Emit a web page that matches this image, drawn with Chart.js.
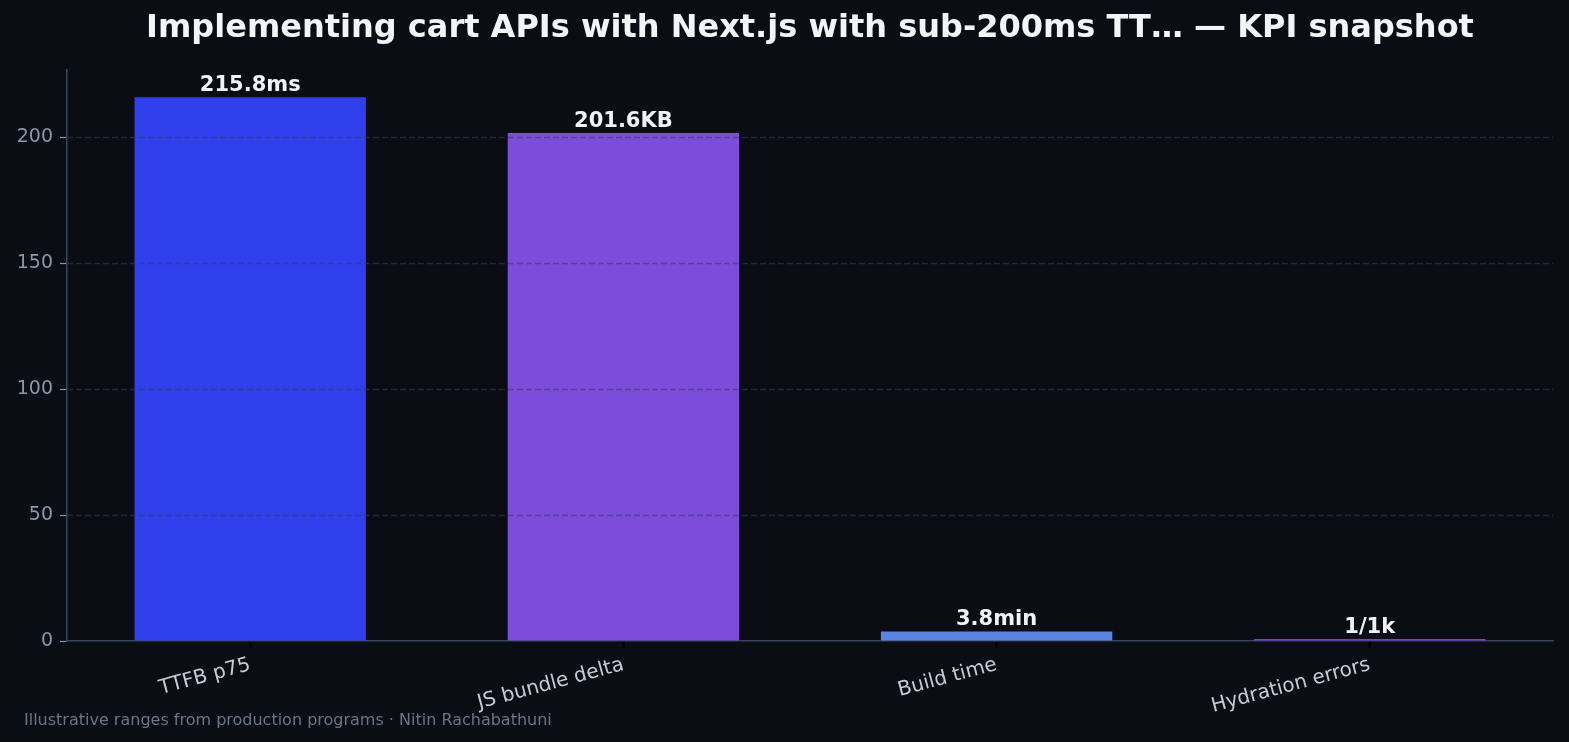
<!DOCTYPE html>
<html><head><meta charset="utf-8">
<script src="https://cdn.jsdelivr.net/npm/chart.js@4.4.1/dist/chart.umd.min.js"></script>
<style>html,body{margin:0;padding:0;background:#0a0d14;}#wrap{width:1569px;height:742px;position:relative;}</style>
</head><body><div id="wrap"><canvas id="c" width="1569" height="742"></canvas></div>
<script>
const categories = ['TTFB p75', 'JS bundle delta', 'Build time', 'Hydration errors'];
const values = [215.8, 201.6, 3.8, 0.8];
const valueLabels = ['215.8ms', '201.6KB', '3.8min', '1/1k'];
const barColors = ['#2f3feb', '#7d4cdb', '#5b84e0', '#7b3ae6'];
const yTicks = [0, 50, 100, 150, 200];
const titleText = 'Implementing cart APIs with Next.js with sub-200ms TT\u2026 \u2014 KPI snapshot';
const footerText = 'Illustrative ranges from production programs \u00b7 Nitin Rachabathuni';
const FONT = '"DejaVu Sans", sans-serif';

const deco = {
  id: 'deco',
  beforeDraw(chart) {
    const ctx = chart.ctx;
    ctx.save();
    ctx.fillStyle = '#0a0d14';
    ctx.fillRect(0, 0, chart.width, chart.height);
    ctx.restore();
  },
  afterDatasetsDraw(chart) {
    const ctx = chart.ctx, a = chart.chartArea, y = chart.scales.y;
    ctx.save();
    ctx.strokeStyle = 'rgba(52,62,88,0.55)';
    ctx.lineWidth = 1.5;
    ctx.setLineDash([6, 3]);
    yTicks.forEach(v => {
      if (v === 0) return;
      const py = Math.round(y.getPixelForValue(v)) + 0.5;
      ctx.beginPath();
      ctx.moveTo(a.left, py);
      ctx.lineTo(a.right, py);
      ctx.stroke();
    });
    ctx.restore();
  },
  afterDraw(chart) {
    const ctx = chart.ctx, a = chart.chartArea;
    ctx.save();
    ctx.fillStyle = '#f4f5f8';
    ctx.font = 'bold 32px ' + FONT;
    ctx.textAlign = 'center';
    ctx.textBaseline = 'middle';
    ctx.fillText(titleText, (a.left + a.right) / 2, 29);
    ctx.fillStyle = '#6b7486';
    ctx.font = '16px ' + FONT;
    ctx.textAlign = 'left';
    ctx.textBaseline = 'alphabetic';
    ctx.fillText(footerText, 24, 725);
    const meta = chart.getDatasetMeta(0);
    ctx.fillStyle = '#f2f3f6';
    ctx.font = 'bold 21px ' + FONT;
    ctx.textAlign = 'center';
    ctx.textBaseline = 'bottom';
    meta.data.forEach((el, i) => {
      ctx.fillText(valueLabels[i], el.x, el.y - 1);
    });
    ctx.restore();
  }
};

new Chart(document.getElementById('c'), {
  type: 'bar',
  data: {
    datasets: [{ data: values.map((v, i) => ({ x: i, y: v })), backgroundColor: barColors, borderWidth: 0,
      categoryPercentage: 1.0, barPercentage: 0.62 }]
  },
  options: {
    responsive: false,
    animation: false,
    events: [],
    layout: { padding: { top: 70, right: 16, left: 0, bottom: 0 } },
    plugins: { legend: { display: false }, title: { display: false }, tooltip: { enabled: false } },
    scales: {
      x: {
        type: 'linear',
        min: -0.491, max: 3.491,
        offset: false,
        afterBuildTicks(s) { s.ticks = categories.map((c, i) => ({ value: i })); },
        grid: { display: true, offset: false, drawOnChartArea: false, drawTicks: true, tickLength: 7, tickColor: '#000000', tickWidth: 2 },
        border: { display: true, color: '#3a4358', width: 1.5 },
        ticks: { color: '#c5cad4', font: { family: FONT, size: 20 }, minRotation: 15, maxRotation: 15, padding: 5,
          autoSkip: false, callback: (v) => categories[v] },
        afterFit(s) { s.height = 101; }
      },
      y: {
        min: 0, max: 226.6,
        afterBuildTicks(s) { s.ticks = yTicks.map(v => ({ value: v })); },
        grid: { display: true, drawOnChartArea: false, drawTicks: true,
          tickLength: 7, tickColor: '#8c96a8', tickWidth: 1.2 },
        border: { display: true, color: '#3a4358', width: 1.5 },
        ticks: { color: '#8c96a8', font: { family: FONT, size: 19 }, padding: 7 },
        afterFit(s) { s.width = 67; }
      }
    }
  },
  plugins: [deco]
});
</script>
</body></html>
